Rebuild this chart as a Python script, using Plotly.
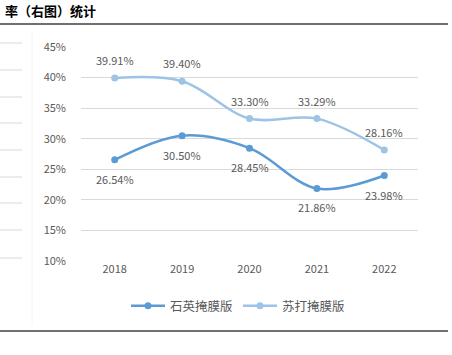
import plotly.graph_objects as go

years = ["2018", "2019", "2020", "2021", "2022"]
quartz = [26.54, 30.50, 28.45, 21.86, 23.98]
soda = [39.91, 39.40, 33.30, 33.29, 28.16]
quartz_name = "石英掩膜版"
soda_name = "苏打掩膜版"
title_text = "率（右图）统计"
y_ticks = [10, 15, 20, 25, 30, 35, 40, 45]
y_tick_labels = ["10%", "15%", "20%", "25%", "30%", "35%", "40%", "45%"]
left_grid_px = [43, 70, 97, 123, 150, 177, 203, 230, 258]

W, H = 452, 355
L, R, T, B = 81, 34, 47, 94
PW, PH = W - L - R, H - T - B

def px_x(x):
    return (x - L) / PW

def px_y(y):
    return (H - B - y) / PH

fig = go.Figure()
fig.add_trace(go.Scatter(
    x=years, y=quartz, name=quartz_name, mode="lines+markers",
    line=dict(color="#5B9BD5", width=2.5, shape="spline", smoothing=1.0),
    marker=dict(size=7, color="#5B9BD5"),
))
fig.add_trace(go.Scatter(
    x=years, y=soda, name=soda_name, mode="lines+markers",
    line=dict(color="#9DC3E6", width=2.5, shape="spline", smoothing=1.0),
    marker=dict(size=7, color="#9DC3E6"),
))

annotations = []
for i, v in enumerate(quartz):
    annotations.append(dict(x=i, y=v, xref="x", yref="y", text=f"{v:.2f}%",
                            showarrow=False, yshift=-19,
                            font=dict(size=11, color="#595959")))
for i, v in enumerate(soda):
    annotations.append(dict(x=i, y=v, xref="x", yref="y", text=f"{v:.2f}%",
                            showarrow=False, yshift=18,
                            font=dict(size=11, color="#595959")))
annotations.append(dict(text="<b>" + title_text + "</b>", xref="paper", yref="paper",
                        x=px_x(3), y=px_y(11), xanchor="left", yanchor="middle",
                        showarrow=False, font=dict(size=13, color="#000000")))

shapes = []
for yp in left_grid_px:
    shapes.append(dict(type="line", xref="paper", yref="paper",
                       x0=px_x(0), x1=px_x(22), y0=px_y(yp), y1=px_y(yp),
                       line=dict(color="#D9D9D9", width=1)))
shapes.append(dict(type="line", xref="paper", yref="paper",
                   x0=px_x(0), x1=px_x(448), y0=px_y(24), y1=px_y(24),
                   line=dict(color="#404040", width=1.5)))
shapes.append(dict(type="line", xref="paper", yref="paper",
                   x0=px_x(0), x1=px_x(448), y0=px_y(331), y1=px_y(331),
                   line=dict(color="#404040", width=1.5)))
shapes.append(dict(type="line", xref="paper", yref="paper",
                   x0=px_x(32), x1=px_x(32), y0=px_y(30), y1=px_y(325),
                   line=dict(color="#F4F4F4", width=1)))

fig.update_layout(
    width=W, height=H,
    margin=dict(l=L, r=R, t=T, b=B, autoexpand=False),
    paper_bgcolor="white", plot_bgcolor="white",
    font=dict(family="Noto Sans CJK SC, Liberation Sans, sans-serif", size=11, color="#595959"),
    showlegend=True,
    legend=dict(orientation="h", x=px_x(238), xanchor="center", y=px_y(306), yanchor="middle",
                font=dict(size=12.5, color="#595959"), itemwidth=34),
    xaxis=dict(type="category", range=[-0.5, 4.5], showgrid=False, showline=False,
               ticks="", tickfont=dict(size=11, color="#595959"), fixedrange=True,
               automargin=False),
    yaxis=dict(range=[10, 45], tickvals=y_ticks, ticktext=y_tick_labels, showgrid=True,
               gridcolor="#D9D9D9", gridwidth=1, zeroline=False, showline=False,
               tickfont=dict(size=11, color="#595959"), ticks="", ticklabelstandoff=14,
               fixedrange=True, automargin=False),
    shapes=shapes,
    annotations=annotations,
)
fig.write_html("out.html", config={"displayModeBar": False},
               post_script="document.body.style.margin='0';")
